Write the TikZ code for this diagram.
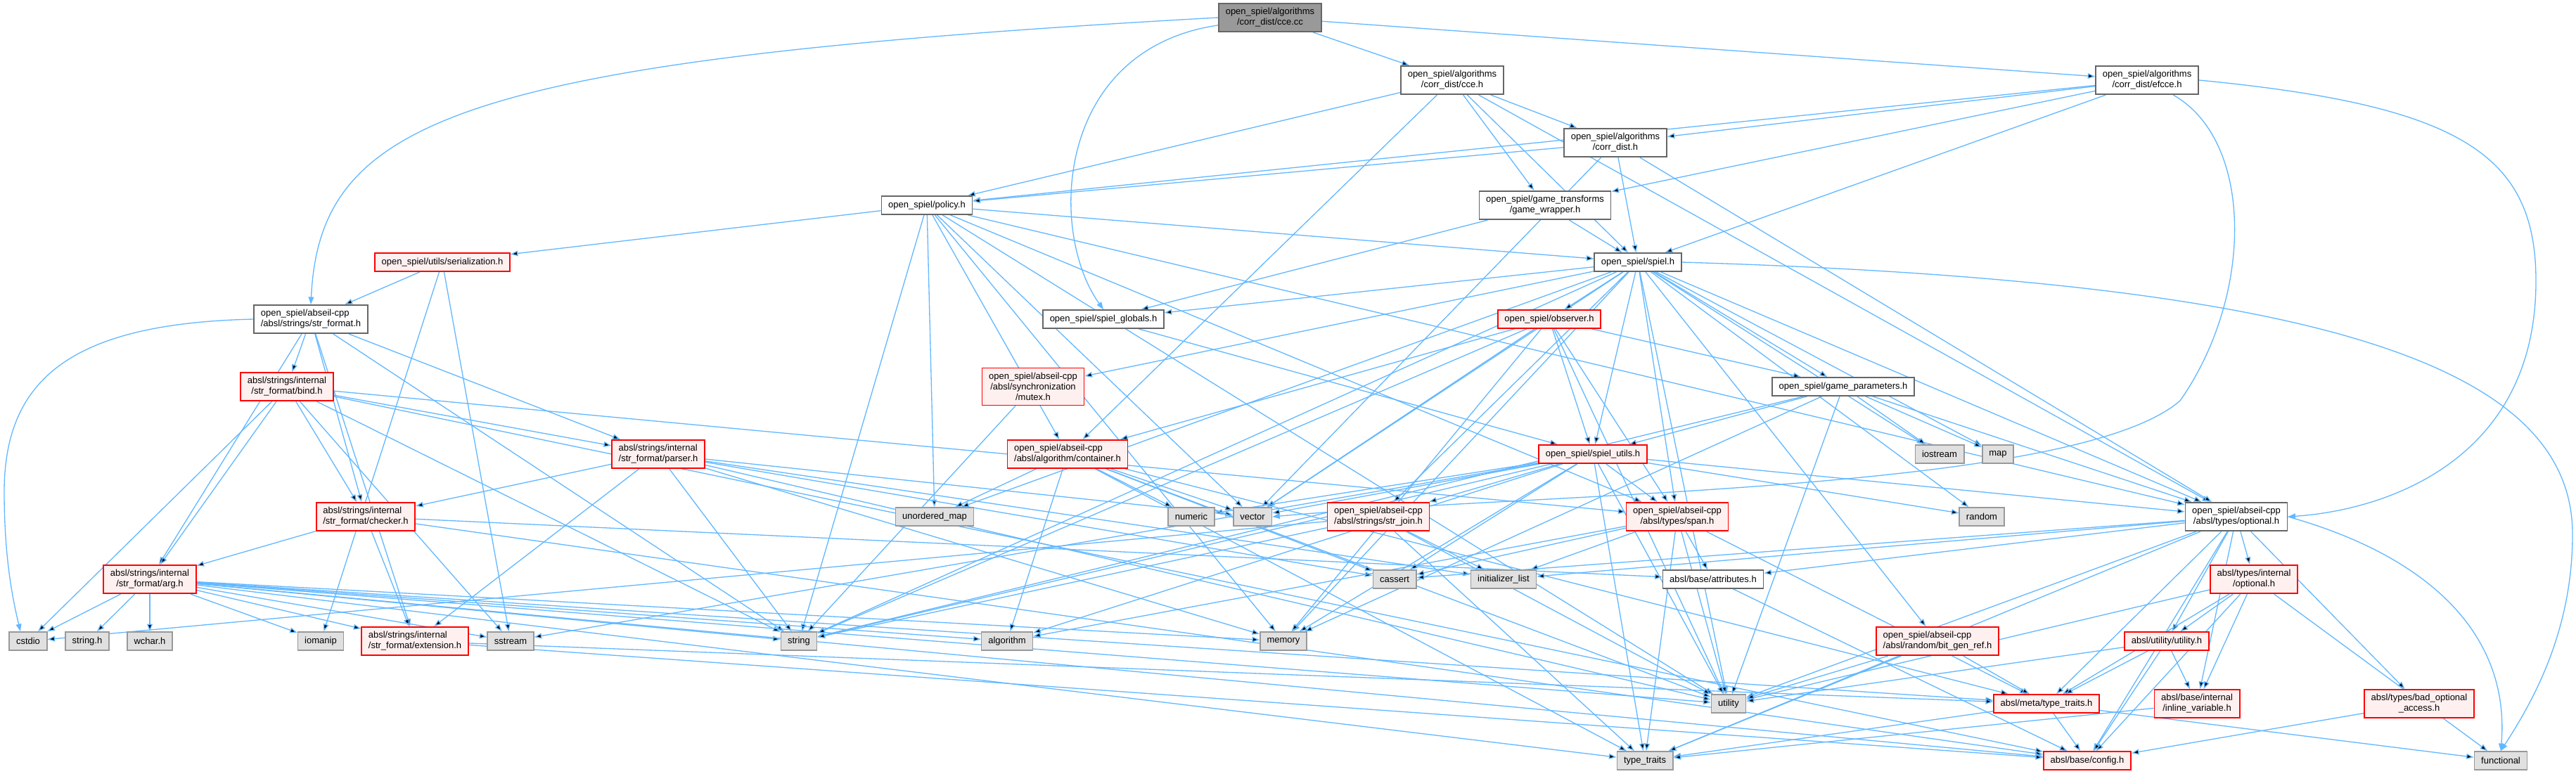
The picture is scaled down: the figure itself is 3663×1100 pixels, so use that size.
\documentclass[tikz,border=0pt]{standalone}
\usepackage{fontspec}
\setsansfont{Liberation Sans}
\usepackage{tikz}
\usetikzlibrary{arrows.meta, backgrounds}
\usepackage{xcolor}

% Doxygen colours
\definecolor{edgeblue}{HTML}{63B8FF}
\definecolor{nodeframe}{HTML}{666666}
\definecolor{sysframe}{HTML}{999999}
\definecolor{sysgray}{HTML}{E0E0E0}
\definecolor{rootgray}{HTML}{999999}
\definecolor{nodepink}{HTML}{FFF0F0}

\begin{document}
\begin{tikzpicture}[x=0.02cm, y=-0.02cm, font=\sffamily\fontsize{7.4}{8.6}\selectfont,
    hdr/.style={draw=nodeframe, fill=white, line width=1pt, inner xsep=5.5pt, inner ysep=3.75pt, minimum height=0.52cm, align=center},
    redhdr/.style={hdr, draw=red, fill=nodepink},
    syshdr/.style={hdr, draw=sysframe, fill=sysgray},
    roothdr/.style={hdr, fill=rootgray},
    dep/.style={draw=edgeblue, line width=0.75pt, -{Triangle[length=6pt, width=4.4pt]}}]

    % Page frame (pixel units, y downwards)
    \useasboundingbox (0,0) rectangle (3663,1100);

    % Top of the graph
    \node[roothdr] (root) at (1806,25) {open\_spiel/algorithms\\/corr\_dist/cce.cc};
    \node[hdr] (cceh) at (2065,114) {open\_spiel/algorithms\\/corr\_dist/cce.h};
    \node[hdr] (efcce) at (3053,114) {open\_spiel/algorithms\\/corr\_dist/efcce.h};
    \node[hdr] (corrdist) at (2297,203) {open\_spiel/algorithms\\/corr\_dist.h};
    \node[hdr] (policy) at (1318,292) {open\_spiel/policy.h};
    \node[hdr] (wrapper) at (2197,292) {open\_spiel/game\_transforms\\/game\_wrapper.h};
    \node[hdr] (spiel) at (2329,373) {open\_spiel/spiel.h};
    \node[redhdr] (serial) at (629,373) {open\_spiel/utils/serialization.h};

    % Middle rows
    \node[hdr, align=left] (strformat) at (442,454) {open\_spiel/abseil-cpp\\/absl/strings/str\_format.h};
    \node[hdr] (globals) at (1569,454) {open\_spiel/spiel\_globals.h};
    \node[redhdr] (observer) at (2203,454) {open\_spiel/observer.h};
    \node[redhdr] (bind) at (408,550) {absl/strings/internal\\/str\_format/bind.h};
    \node[redhdr] (mutex) at (1469,550) {open\_spiel/abseil-cpp\\/absl/synchronization\\/mutex.h};
    \node[hdr] (gameparams) at (2621,550) {open\_spiel/game\_parameters.h};
    \node[redhdr, align=left] (parser) at (936,646) {absl/strings/internal\\/str\_format/parser.h};
    \node[redhdr, align=left] (container) at (1518,646) {open\_spiel/abseil-cpp\\/absl/algorithm/container.h};
    \node[redhdr] (spielutils) at (2265,646) {open\_spiel/spiel\_utils.h};
    \node[syshdr] (iostream) at (2758,646) {iostream};
    \node[syshdr] (map) at (2841,646) {map};
    \node[redhdr, align=left] (checker) at (520,735) {absl/strings/internal\\/str\_format/checker.h};
    \node[syshdr] (unorderedmap) at (1329,735) {unordered\_map};
    \node[syshdr] (numeric) at (1694,735) {numeric};
    \node[syshdr] (vector) at (1781,735) {vector};
    \node[redhdr, align=left] (strjoin) at (1960,735) {open\_spiel/abseil-cpp\\/absl/strings/str\_join.h};
    \node[redhdr] (span) at (2385,735) {open\_spiel/abseil-cpp\\/absl/types/span.h};
    \node[syshdr] (random) at (2818,735) {random};
    \node[hdr] (optional) at (3180,735) {open\_spiel/abseil-cpp\\/absl/types/optional.h};
    \node[redhdr] (arg) at (213,824) {absl/strings/internal\\/str\_format/arg.h};
    \node[syshdr] (cassert) at (1983,824) {cassert};
    \node[syshdr] (initlist) at (2138,824) {initializer\_list};
    \node[hdr] (attributes) at (2436,824) {absl/base/attributes.h};
    \node[redhdr] (intoptional) at (3205,824) {absl/types/internal\\/optional.h};

    % Bottom rows
    \node[syshdr] (cstdio) at (40,912) {cstdio};
    \node[syshdr] (stringh) at (124,912) {string.h};
    \node[syshdr] (wcharh) at (213,912) {wchar.h};
    \node[syshdr] (iomanip) at (456,912) {iomanip};
    \node[redhdr, align=left] (extension) at (590,912) {absl/strings/internal\\/str\_format/extension.h};
    \node[syshdr] (sstream) at (726,912) {sstream};
    \node[syshdr] (string) at (1136,912) {string};
    \node[syshdr] (algorithm) at (1432,912) {algorithm};
    \node[syshdr] (memory) at (1825,912) {memory};
    \node[redhdr, align=left] (bitgen) at (2755,912) {open\_spiel/abseil-cpp\\/absl/random/bit\_gen\_ref.h};
    \node[redhdr] (utilityh) at (3081,912) {absl/utility/utility.h};
    \node[syshdr] (utility) at (2458,1001) {utility};
    \node[redhdr] (metatraits) at (2910,1001) {absl/meta/type\_traits.h};
    \node[redhdr] (inlinevar) at (3124,1001) {absl/base/internal\\/inline\_variable.h};
    \node[redhdr] (badopt) at (3440,1001) {absl/types/bad\_optional\\\_access.h};
    \node[syshdr] (typetraits) at (2339,1082) {type\_traits};
    \node[redhdr] (config) at (2968,1082) {absl/base/config.h};
    \node[syshdr] (functional) at (3556,1082) {functional};

    % Include edges, kept under the boxes
    \begin{pgfonlayer}{background}
    \path[dep] (root) edge (cceh) edge (efcce);
    \draw[dep] (root.west) .. controls (650,85) and (455,170) .. (strformat.north);
    \draw[dep] (root) .. controls (1500,70) and (1490,330) .. (globals.north);

    \path[dep] (cceh) edge (corrdist) edge (wrapper) edge (spiel) edge (policy) edge (optional) edge (container);
    \path[dep] (efcce) edge (corrdist) edge (policy) edge (wrapper) edge (spiel);
    \draw[dep] (efcce.east) .. controls (3500,150) and (3606,220) .. (3606,400) .. controls (3606,650) and (3400,725) .. (optional.east);
    \draw[dep] (efcce) .. controls (3205,200) and (3205,420) .. (3100,570) .. controls (2950,700) and (2200,700) .. (vector.east);
    \path[dep] (corrdist) edge (policy) edge (spiel) edge (vector) edge (optional);
    \path[dep] (wrapper) edge (spiel) edge (globals);

    \path[dep] (policy) edge (serial) edge (spiel) edge (string) edge (unorderedmap) edge (container) edge (memory)
        edge (vector) edge (utility) edge (span) edge (optional);
    \path[dep] (serial) edge (strformat) edge (iomanip) edge (sstream);

    \draw[dep] (strformat.west) .. controls (100,460) and (6,540) .. (6,700) .. controls (6,800) and (20,860) .. ([xshift=-0.22cm]cstdio.north);
    \path[dep] (strformat) edge (arg) edge (bind) edge (checker) edge (parser) edge (extension) edge (string);
    \path[dep] (bind) edge (cstdio) edge (arg) edge (checker) edge (parser) edge (span) edge (string) edge (sstream) edge (config);
    \path[dep] (parser) edge (checker) edge (extension) edge (vector) edge (cassert) edge (initlist) edge (string)
        edge (memory) edge (utility);
    \path[dep] (checker) edge (arg) edge (extension) edge (attributes) edge (config);
    \path[dep] (arg) edge (cstdio) edge (stringh) edge (wcharh) edge (iomanip) edge (extension) edge (sstream)
        edge (string) edge (memory) edge (algorithm) edge (typetraits) edge (metatraits) edge (config) edge (utility);
    \path[dep] (extension) edge (config) edge (metatraits);

    \draw[dep] (spiel.east) .. controls (3300,400) and (3658,520) .. (3658,760) .. controls (3658,900) and (3600,1000) .. (functional.north);
    \path[dep] (spiel) edge (iostream) edge (map) edge (memory) edge (random) edge (string) edge (unorderedmap)
        edge (utility) edge (vector) edge (bitgen) edge (strjoin) edge (mutex) edge (optional) edge (span)
        edge (gameparams) edge (observer) edge (globals) edge (spielutils);
    \path[dep] (globals) edge (spielutils);
    \path[dep] (mutex) edge (string);
    \path[dep] (observer) edge (gameparams) edge (spielutils) edge (span) edge (container) edge (string)
        edge (memory) edge (vector) edge (utility);
    \path[dep] (gameparams) edge (spielutils) edge (iostream) edge (map) edge (optional) edge (utility)
        edge (memory) edge (string);
    \path[dep] (spielutils) edge (vector) edge (numeric) edge (string) edge (strjoin) edge (span) edge (optional)
        edge (random) edge (utility) edge (typetraits) edge (memory) edge (sstream) edge (algorithm) edge (cassert);
    \path[dep] (container) edge (unorderedmap) edge (algorithm) edge (numeric) edge (vector) edge (cassert)
        edge (typetraits) edge (utility) edge (metatraits);
    \path[dep] (strjoin) edge (cstdio) edge (string) edge (typetraits) edge (utility) edge (initlist);
    \path[dep] (span) edge (cassert) edge (initlist) edge (algorithm) edge (typetraits) edge (utility)
        edge (attributes) edge (metatraits);
    \path[dep] (attributes) edge (config);

    \path[dep] (optional) edge (cassert) edge (initlist) edge (attributes) edge (utility) edge (typetraits)
        edge (metatraits) edge (utilityh) edge (intoptional) edge (inlinevar) edge (config) edge (badopt);
    \draw[dep] (optional.east) .. controls (3450,790) and (3570,900) .. (functional.north);
    \path[dep] (intoptional) edge (utility) edge (utilityh) edge (inlinevar) edge (config) edge (metatraits) edge (functional);
    \path[dep] (utilityh) edge (utility) edge (metatraits) edge (config) edge (inlinevar);
    \path[dep] (metatraits) edge (config) edge (functional) edge (typetraits);
    \path[dep] (inlinevar) edge (typetraits);
    \path[dep] (badopt) edge (config);
    \path[dep] (bitgen) edge (utility) edge (typetraits) edge (metatraits);
    \end{pgfonlayer}

\end{tikzpicture}
\end{document}
